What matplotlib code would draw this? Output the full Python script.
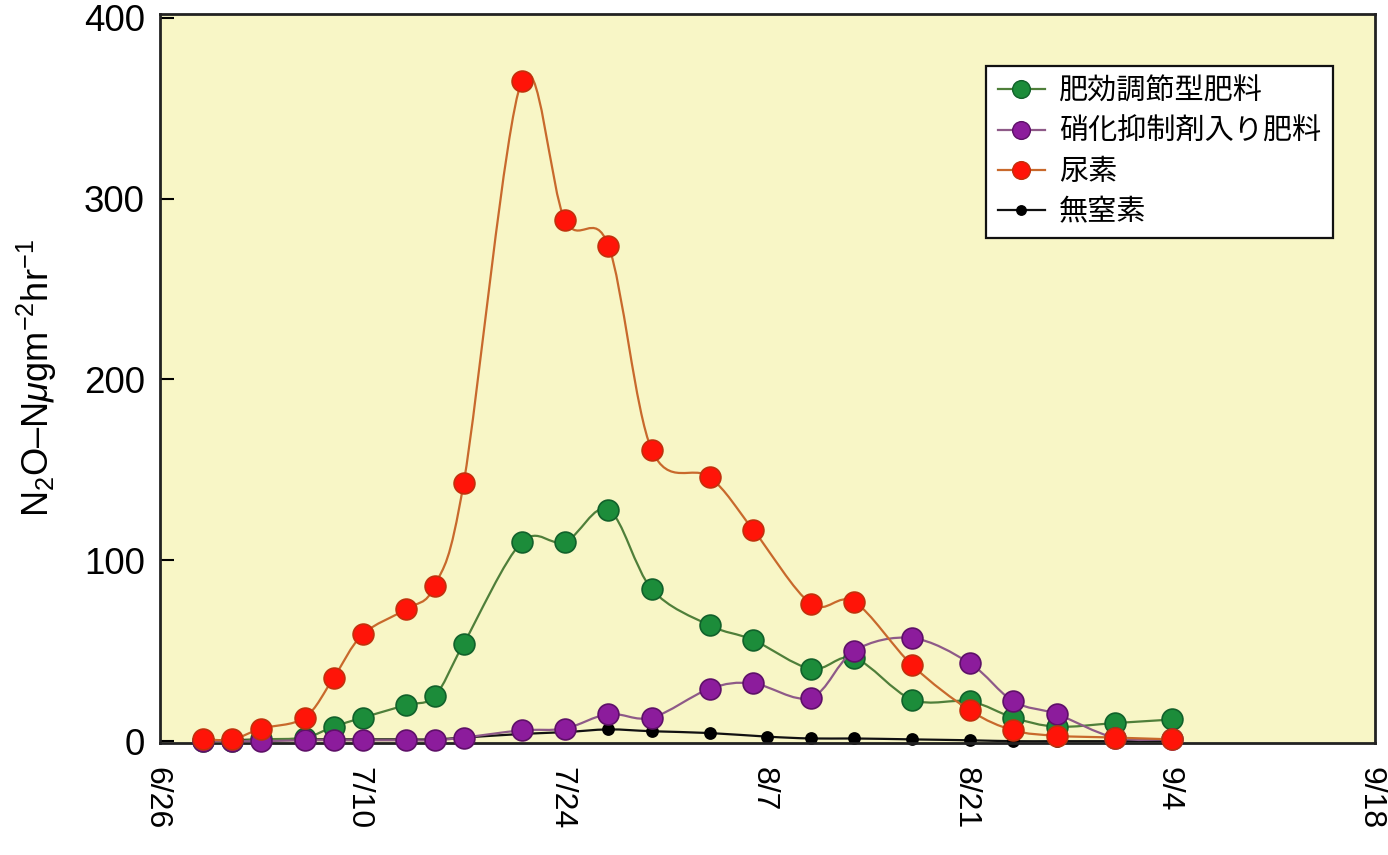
import matplotlib
matplotlib.use("Agg")
import matplotlib.pyplot as plt
import matplotlib.dates as mdates
import matplotlib.transforms as mtransforms
from matplotlib.path import Path
from matplotlib.patches import PathPatch
from matplotlib.lines import Line2D
import numpy as np
import pandas as pd

plt.rcParams["font.family"] = ["Liberation Sans", "Noto Sans CJK JP", "DejaVu Sans"]
plt.rcParams["mathtext.fontset"] = "custom"
plt.rcParams["mathtext.rm"] = "Liberation Sans"
plt.rcParams["mathtext.it"] = "Liberation Sans:italic"
plt.rcParams["axes.unicode_minus"] = True

# sampling dates (month/day)
dates = ["6/29", "7/1", "7/3", "7/6", "7/8", "7/10", "7/13", "7/15", "7/17", "7/21",
         "7/24", "7/27", "7/30", "8/3", "8/6", "8/10", "8/13", "8/17", "8/21", "8/24",
         "8/27", "8/31", "9/4"]
dates_nofert = ["6/29", "7/1", "7/3", "7/6", "7/8", "7/10", "7/13", "7/15", "7/17", "7/21",
                "7/24", "7/27", "7/30", "8/3", "8/7", "8/10", "8/13", "8/17", "8/21", "8/24",
                "8/27", "8/31", "9/4"]

slow_release = [0, 0, 1, 2, 8, 13, 20, 25, 54, 110, 110, 128, 84, 64, 56, 40, 46, 23, 22, 13,
                8, 10, 12]
inhibitor = [0, 0, 0, 0.5, 0.5, 0.5, 0.5, 0.5, 2, 6, 7, 15, 13, 29, 32, 24, 50, 57, 43, 22,
             15, 2, 1]
urea = [1, 1, 7, 13, 35, 59, 73, 86, 143, 365, 288, 274, 161, 146, 117, 76, 77, 42, 17, 6,
        3, 2, 1]
no_nitrogen = [0.5, 0.5, 1, 1, 1, 1, 1, 1, 2, 4, 5, 6.5, 5.5, 4.5, 2.5, 1.5, 1.5, 1, 0.5, 0,
               0, 0, 0]

labels = ["肥効調節型肥料", "硝化抑制剤入り肥料", "尿素", "無窒素"]
tick_labels = ["6/26", "7/10", "7/24", "8/7", "8/21", "9/4", "9/18"]
y_ticks = [0, 100, 200, 300, 400]


def to_num(md):
    return mdates.date2num(pd.to_datetime(["2000/" + s for s in md]))


def smooth_path(x, y):
    # Catmull-Rom segments drawn as cubic Bezier pieces
    pts = np.column_stack([x, y])
    ext = np.vstack([pts[0], pts, pts[-1]])
    verts = [pts[0]]
    codes = [Path.MOVETO]
    for i in range(1, len(ext) - 2):
        p0, p1, p2, p3 = ext[i - 1], ext[i], ext[i + 1], ext[i + 2]
        c1 = p1 + (p2 - p0) / 6.0
        c2 = p2 - (p3 - p1) / 6.0
        verts += [c1, c2, p2]
        codes += [Path.CURVE4] * 3
    return Path(verts, codes)


fig = plt.figure(figsize=(13.88, 8.55), dpi=100)
ax = fig.add_axes([0.1153, 0.131, 0.8753, 0.8526])
ax.set_facecolor("#f8f6c6")

x_all = to_num(dates)
x_nf = to_num(dates_nofert)

series = [
    # x, y, line colour, marker face, marker edge, marker size, zorder
    (x_nf, no_nitrogen, "#111111", "#000000", "#000000", 8, 2),
    (x_all, slow_release, "#4f7f3a", "#1c8c3a", "#11612a", 15, 3),
    (x_all, inhibitor, "#8e5a88", "#8c1c9c", "#5e1068", 15, 4),
    (x_all, urea, "#c8692c", "#ff1408", "#c2300c", 15, 5),
]

for (x, y, lc, mf, me, ms, z) in series:
    ax.add_patch(PathPatch(smooth_path(x, np.asarray(y, float)), facecolor="none",
                           edgecolor=lc, lw=1.6, zorder=z))
    ax.plot(x, y, linestyle="none", marker="o", ms=ms, mfc=mf, mec=me, mew=1.2,
            zorder=z + 0.5, clip_on=False)

handles = []
order = [1, 2, 3, 0]
for lab, idx in zip(labels, order):
    _, _, lc, mf, me, ms, _ = series[idx]
    handles.append(Line2D([], [], color=lc, lw=1.6, marker="o", ms=ms * 0.85,
                          mfc=mf, mec=me, label=lab))

tick_pos = to_num(tick_labels)
ax.set_xlim(tick_pos[0], tick_pos[-1])
ax.set_xticks(tick_pos)
ax.set_xticklabels([])
ax.tick_params(axis="x", length=0)
# date labels written downward under each tick, nudged a little to the left
lab_trans = ax.get_xaxis_transform() + mtransforms.ScaledTranslation(-4 / 100, -24 / 100, fig.dpi_scale_trans)
for xp, txt in zip(tick_pos, tick_labels):
    ax.text(xp, 0, txt, transform=lab_trans, rotation=-90, ha="center", va="top",
            fontsize=23, clip_on=False)

ax.set_ylim(-1, 402)
ax.set_yticks(y_ticks)
ax.set_yticklabels([str(v) for v in y_ticks], fontsize=26.5)
ax.tick_params(axis="y", direction="in", length=10, width=1.5, pad=11)
for sp in ax.spines.values():
    sp.set_linewidth(2)
    sp.set_color("#222222")

ax.set_ylabel("N$_2$O\u2013N$\\mu$gm$^{-2}$hr$^{-1}$", fontsize=26, labelpad=18)

leg = ax.legend(handles=handles, loc="upper right", bbox_to_anchor=(0.9654, 0.9287),
                borderaxespad=0, fontsize=21, frameon=True, fancybox=False,
                framealpha=1, edgecolor="#111111", handlelength=1.6,
                handletextpad=0.5, labelspacing=0.42, borderpad=0.4)
leg.get_frame().set_linewidth(1.6)

fig.savefig("out.png", dpi=100, facecolor="white")
